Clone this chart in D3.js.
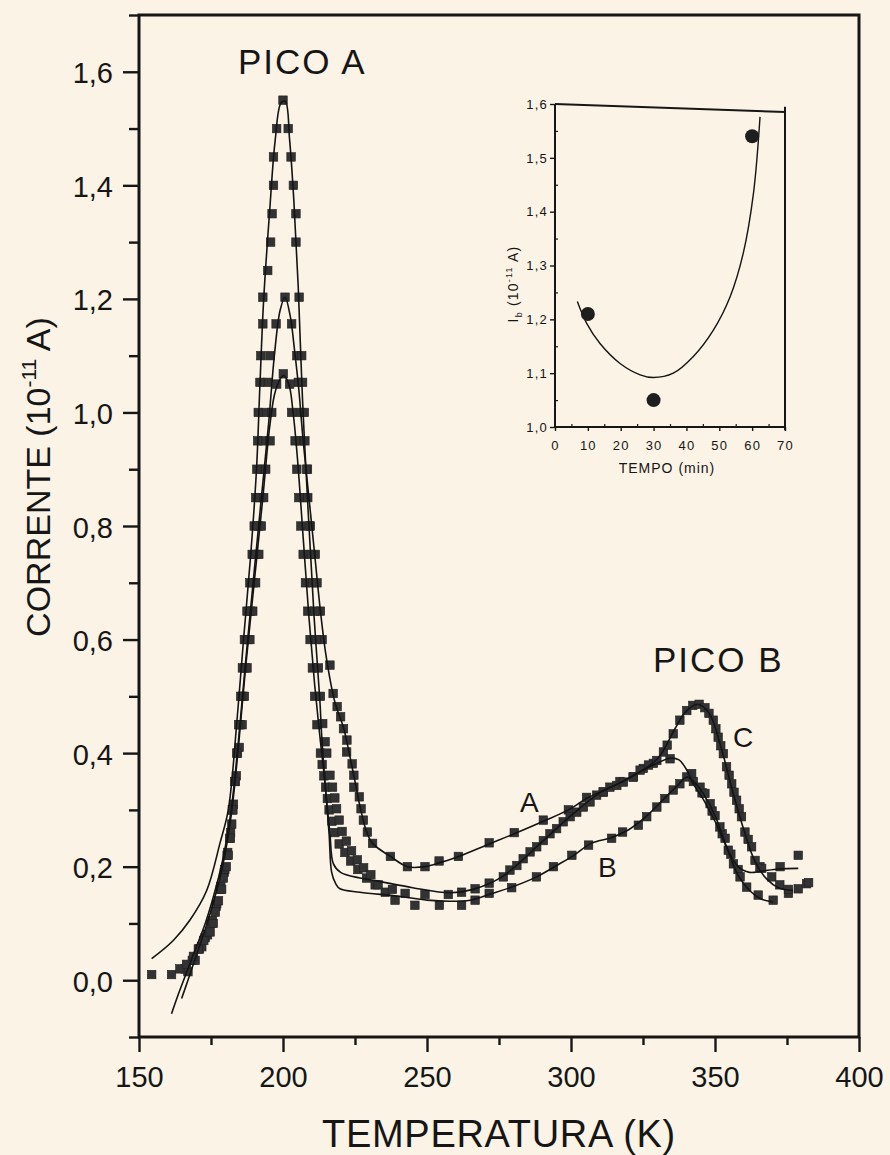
<!DOCTYPE html>
<html>
<head>
<meta charset="utf-8">
<script src="https://cdn.jsdelivr.net/npm/d3@7"></script>
<style>
  html, body { margin: 0; padding: 0; background: #fbf3e5; }
  svg { display: block; }
</style>
</head>
<body>
<svg id="chart" width="890" height="1155"></svg>
<script>
// ---- Main plot: TSDC current versus temperature, three samples (A, B, C) ----
// Measured points [T (K), I (1e-11 A)]
const serieA = [
  [166.0,0.020],[168.5,0.035],[171.0,0.055],[173.0,0.075],[175.0,0.100],[176.8,0.130],[178.2,0.160],
  [179.6,0.190],[180.6,0.220],[181.6,0.250],[182.4,0.300],[183.4,0.350],[184.2,0.400],[185.1,0.450],
  [186.0,0.500],[186.8,0.550],[187.7,0.600],[188.7,0.650],[189.7,0.700],[190.6,0.750],[191.5,0.800],
  [192.2,0.850],[192.8,0.900],[193.2,0.950],[193.8,1.000],[194.6,1.053],[195.5,1.100],[197.6,1.156],
  [200.7,1.203],[203.0,1.156],[204.8,1.100],[205.3,1.053],[206.0,1.000],[205.8,0.950],[208.5,0.900],
  [207.2,0.850],[209.5,0.800],[211.2,0.750],[211.8,0.700],[213.0,0.650],[213.6,0.600],[216.3,0.555],
  [217.4,0.505],[218.8,0.482],[220.0,0.464],[221.0,0.443],[222.2,0.423],[222.1,0.402],[224.0,0.381],
  [224.6,0.361],[224.6,0.340],[226.5,0.323],[227.1,0.302],[227.9,0.282],[229.3,0.261],[231.1,0.241],
  [237.3,0.218],[243.2,0.200],[249.3,0.200],[254.2,0.210],[260.9,0.218],[271.6,0.242],[280.3,0.260],
  [290.4,0.282],[299.1,0.300],[305.4,0.322],[311.2,0.331],[317.0,0.350],[321.6,0.358],[325.1,0.373],
  [328.6,0.382],[334.4,0.390],[341.9,0.364],[345.5,0.330],[349.0,0.298],[352.5,0.258],[355.5,0.222],
  [358.0,0.195],[365.6,0.200],[372.6,0.200],[378.9,0.220]
];
const serieB = [
  [167.0,0.015],[169.5,0.035],[171.8,0.059],[173.8,0.080],[175.5,0.105],[177.0,0.135],[178.4,0.165],
  [179.8,0.195],[180.8,0.225],[181.8,0.260],[182.8,0.310],[183.8,0.360],[184.8,0.410],[185.8,0.450],
  [186.6,0.500],[187.5,0.550],[188.5,0.600],[189.5,0.650],[190.5,0.700],[191.6,0.750],[192.5,0.800],
  [193.3,0.850],[194.0,0.900],[195.5,0.950],[196.1,1.000],[197.8,1.050],[200.1,1.068],[202.3,1.050],
  [203.0,1.000],[204.2,0.950],[204.8,0.900],[205.5,0.850],[206.2,0.800],[207.0,0.750],[207.8,0.700],
  [208.6,0.650],[209.4,0.600],[210.2,0.550],[211.0,0.500],[211.8,0.450],[213.0,0.400],[213.6,0.380],
  [214.2,0.360],[214.8,0.340],[215.4,0.320],[216.0,0.300],[217.0,0.280],[218.0,0.260],[219.5,0.240],
  [221.5,0.225],[223.5,0.210],[226.0,0.195],[229.0,0.180],[232.0,0.168],[235.5,0.155],[238.9,0.141],
  [245.8,0.132],[254.3,0.132],[262.0,0.132],[266.7,0.141],[271.6,0.153],[279.4,0.163],[288.0,0.182],
  [293.9,0.200],[300.3,0.220],[306.1,0.238],[314.1,0.250],[317.9,0.261],[323.4,0.273],[326.3,0.288],
  [329.8,0.305],[332.6,0.320],[335.5,0.335],[337.8,0.346],[340.2,0.358],[342.5,0.350],[344.8,0.340],
  [346.5,0.329],[348.3,0.311],[350.0,0.290],[351.7,0.270],[353.5,0.250],[354.6,0.229],[356.4,0.205],
  [358.7,0.182],[361.0,0.164],[365.0,0.150],[370.2,0.141],[375.5,0.153],[381.8,0.170]
];
const serieC = [
  [154.4,0.010],[161.3,0.010],[164.2,0.020],[166.5,0.028],[168.9,0.042],[170.6,0.055],[172.5,0.070],
  [174.7,0.085],[175.8,0.100],[176.5,0.120],[177.6,0.140],[178.7,0.160],[179.3,0.180],[180.3,0.200],
  [181.0,0.220],[181.6,0.250],[182.2,0.275],[182.6,0.300],[183.3,0.350],[183.9,0.400],[184.6,0.450],
  [185.3,0.500],[185.9,0.550],[186.6,0.600],[187.5,0.650],[188.5,0.700],[189.3,0.750],[190.0,0.800],
  [190.5,0.850],[190.9,0.900],[191.2,0.950],[191.4,1.000],[192.0,1.053],[192.3,1.100],[193.0,1.156],
  [193.0,1.203],[194.7,1.250],[195.7,1.300],[196.2,1.350],[196.7,1.400],[196.7,1.450],[197.8,1.500],
  [200.0,1.550],[201.8,1.500],[202.8,1.450],[203.6,1.400],[204.5,1.350],[204.5,1.300],[205.6,1.203],
  [206.5,1.100],[206.8,1.053],[207.4,1.000],[207.6,0.950],[208.2,0.900],[208.6,0.850],[209.2,0.800],
  [209.8,0.750],[210.4,0.700],[211.0,0.650],[211.6,0.600],[212.3,0.550],[213.0,0.500],[213.8,0.452],
  [214.6,0.420],[215.2,0.400],[216.3,0.361],[217.2,0.340],[218.0,0.321],[218.6,0.302],[219.5,0.282],
  [220.5,0.262],[222.0,0.245],[223.8,0.228],[225.8,0.212],[228.0,0.198],[230.5,0.186],[233.0,0.168],
  [238.0,0.160],[242.4,0.153],[249.3,0.151],[257.4,0.151],[262.0,0.155],[266.7,0.161],[271.6,0.171],
  [276.5,0.182],[278.8,0.194],[281.2,0.202],[283.4,0.214],[285.8,0.226],[288.1,0.235],[290.4,0.246],
  [292.7,0.258],[295.0,0.267],[297.3,0.279],[299.7,0.288],[302.0,0.296],[304.3,0.305],[306.6,0.314],
  [308.9,0.326],[311.2,0.332],[313.5,0.340],[315.9,0.343],[318.2,0.349],[321.6,0.358],[324.0,0.370],
  [326.9,0.379],[329.8,0.387],[332.1,0.402],[333.4,0.414],[335.5,0.434],[337.8,0.458],[340.2,0.475],
  [342.3,0.484],[344.5,0.486],[346.5,0.480],[347.9,0.470],[349.4,0.458],[350.3,0.443],[351.1,0.428],
  [352.0,0.413],[352.9,0.399],[354.0,0.376],[354.9,0.361],[355.8,0.346],[356.6,0.331],[357.5,0.317],
  [358.4,0.302],[359.2,0.288],[360.4,0.261],[361.5,0.248],[362.7,0.235],[363.9,0.211],[366.2,0.197],
  [369.7,0.182],[372.5,0.168],[375.5,0.160],[378.9,0.161],[382.5,0.172]
];

// Fitted curves [T (K), I (1e-11 A)]
const ajusteA = [
  [161.3,-0.059],[164.0,-0.020],[167.0,0.020],[170.0,0.060],[173.0,0.100],[176.0,0.150],[179.0,0.210],
  [182.0,0.300],[184.5,0.420],[187.0,0.560],[190.0,0.720],[192.5,0.850],[195.0,0.980],[197.0,1.100],
  [199.0,1.180],[200.7,1.203],[202.5,1.170],[204.0,1.110],[205.5,1.040],[207.0,0.950],[209.0,0.850],
  [211.0,0.750],[213.0,0.650],[215.0,0.570],[218.0,0.490],[221.0,0.445],[223.0,0.400],[225.0,0.350],
  [227.0,0.300],[229.0,0.262],[231.1,0.241],[237.3,0.218],[243.2,0.200],[249.3,0.200],[255.0,0.208],
  [261.0,0.218],[271.6,0.240],[280.3,0.258],[290.4,0.280],[299.1,0.300],[305.4,0.320],[317.0,0.348],
  [325.0,0.370],[334.4,0.391],[337.5,0.388],[340.0,0.372],[342.0,0.350],[346.0,0.318],[350.0,0.280],
  [354.0,0.235],[358.0,0.200],[362.0,0.190],[366.0,0.192],[372.0,0.196],[378.9,0.197]
];
const ajusteB = [
  [164.8,-0.032],[167.0,0.000],[170.0,0.045],[173.0,0.090],[176.0,0.140],[179.0,0.200],[182.0,0.290],
  [184.5,0.410],[187.0,0.550],[190.0,0.700],[193.0,0.850],[195.5,0.980],[197.5,1.040],[200.1,1.065],
  [202.0,1.050],[203.5,1.000],[205.0,0.920],[207.0,0.780],[209.0,0.640],[211.0,0.520],[212.8,0.430],
  [214.6,0.346],[216.0,0.258],[216.9,0.190],[218.3,0.170],[219.8,0.161],[226.7,0.155],[240.0,0.148],
  [250.0,0.141],[258.0,0.139],[265.0,0.141],[272.0,0.152],[280.0,0.165],[288.0,0.182],[295.0,0.202],
  [301.0,0.220],[307.0,0.241],[314.0,0.251],[320.0,0.265],[326.0,0.288],[332.0,0.318],[337.0,0.343],
  [340.2,0.358],[343.0,0.348],[346.0,0.328],[350.0,0.290],[354.0,0.235],[358.0,0.185],[362.0,0.158],
  [366.0,0.143],[370.2,0.138]
];
const ajusteC = [
  [154.4,0.038],[161.9,0.070],[167.7,0.106],[173.5,0.158],[178.1,0.241],[181.0,0.300],[183.9,0.450],
  [186.3,0.600],[188.8,0.750],[190.8,0.900],[192.0,1.050],[193.3,1.200],[195.3,1.350],[197.3,1.480],
  [199.3,1.545],[200.8,1.548],[202.3,1.480],[203.8,1.370],[205.3,1.220],[206.8,1.020],[208.8,0.820],
  [210.8,0.640],[212.8,0.493],[213.4,0.434],[214.6,0.346],[216.3,0.258],[217.5,0.205],[220.0,0.190],
  [226.7,0.180],[232.5,0.175],[245.0,0.163],[258.0,0.154],[266.0,0.160],[276.0,0.182],[290.0,0.244],
  [300.0,0.290],[310.0,0.330],[320.0,0.355],[330.0,0.390],[336.0,0.442],[340.0,0.474],[344.0,0.486],
  [348.0,0.470],[352.0,0.412],[356.0,0.335],[360.0,0.265],[364.0,0.208],[368.0,0.178],[372.0,0.163],
  [377.0,0.158]
];

// Axis ticks
const tempTicks = [150, 200, 250, 300, 350, 400];
const tempMinor = [175, 225, 275, 325, 375];
const correnteTicks = [0.0, 0.2, 0.4, 0.6, 0.8, 1.0, 1.2, 1.4, 1.6];
const correnteMinor = [-0.1, 0.1, 0.3, 0.5, 0.7, 0.9, 1.1, 1.3, 1.5, 1.7];

// ---- Inset: peak A current versus polarization time ----
const tempo = [10, 30, 60];
const picoI = [1.21, 1.05, 1.54];
const ajusteTempo = [6.8, 9.6, 13.7, 19.8, 25.9, 29.9, 36.0, 42.1, 48.2, 53.3, 57.3, 60.4, 62.4];
const ajusteI = [1.233, 1.193, 1.155, 1.118, 1.097, 1.092, 1.100, 1.131, 1.180, 1.242, 1.323, 1.434, 1.576];
const tempoTicks = [0, 10, 20, 30, 40, 50, 60, 70];
const tempoMinor = [5, 15, 25, 35, 45, 55, 65];
const insetTicks = [1.0, 1.1, 1.2, 1.3, 1.4, 1.5, 1.6];
const insetMinor = [1.05, 1.15, 1.25, 1.35, 1.45, 1.55];

// ---------------------------------------------------------------------------
const FONT = "'Liberation Sans', Arial, Helvetica, sans-serif";
const INK = "#161616";
const svg = d3.select("#chart");
svg.append("rect").attr("width", 890).attr("height", 1155).attr("fill", "#fbf3e5");

const x = d3.scaleLinear().domain([150, 400]).range([139, 859]);
const y = d3.scaleLinear().domain([-0.1, 1.7]).range([1037, 15]);
const virgula = d => d3.format(".1f")(d).replace(".", ",");

function styleAxis(g, size, opts = {}) {
  g.select(".domain").remove();
  g.selectAll(".tick line").attr("stroke", INK).attr("stroke-width", opts.tw || 2.4);
  g.selectAll(".tick text")
    .attr("font-family", FONT).attr("font-size", size).attr("fill", INK)
    .attr("letter-spacing", opts.ls || 0);
  if (opts.dy) g.selectAll(".tick text").attr("dy", opts.dy);
}

// Y axis (major + minor)
svg.append("g").attr("transform", "translate(139,0)")
  .call(d3.axisLeft(y).tickValues(correnteTicks).tickFormat(virgula).tickSize(16).tickPadding(10))
  .call(g => styleAxis(g, 29, { dy: "0.38em" }));
svg.append("g").attr("transform", "translate(139,0)")
  .call(d3.axisLeft(y).tickValues(correnteMinor).tickFormat("").tickSize(10))
  .call(g => styleAxis(g, 29));

// X axis (major + minor)
svg.append("g").attr("transform", "translate(0,1037)")
  .call(d3.axisBottom(x).tickValues(tempTicks).tickFormat(d3.format("d")).tickSize(15).tickPadding(14))
  .call(g => styleAxis(g, 29));
svg.append("g").attr("transform", "translate(0,1037)")
  .call(d3.axisBottom(x).tickValues(tempMinor).tickFormat("").tickSize(8))
  .call(g => styleAxis(g, 29));

// Frame
svg.append("path")
  .attr("d", `M${x(150)},${y(1.7)}H${x(400)}V${y(-0.1)}H${x(150)}Z`)
  .attr("fill", "none").attr("stroke", INK).attr("stroke-width", 3);

// Axis titles
svg.append("text")
  .attr("x", 499).attr("y", 1147).attr("text-anchor", "middle")
  .attr("font-family", FONT).attr("font-size", 38).attr("letter-spacing", 0.7).attr("fill", INK)
  .text("TEMPERATURA (K)");

const yTitle = svg.append("text")
  .attr("transform", "translate(50,477) rotate(-90)").attr("text-anchor", "middle")
  .attr("font-family", FONT).attr("font-size", 34).attr("fill", INK);
yTitle.append("tspan").text("CORRENTE (10");
yTitle.append("tspan").attr("font-size", 21).attr("dy", -14).text("-11");
yTitle.append("tspan").attr("dy", 14).text(" A)");

// Series: markers then fitted lines
const linha = d3.line().x(d => x(d[0])).y(d => y(d[1])).curve(d3.curveCatmullRom.alpha(0.5));
const MS = 8.5;
[serieA, serieB, serieC].forEach(s => {
  svg.append("g").selectAll("rect").data(s).join("rect")
    .attr("x", d => x(d[0]) - MS / 2).attr("y", d => y(d[1]) - MS / 2)
    .attr("width", MS).attr("height", MS)
    .attr("fill", "#333").attr("stroke", "#1f1f1f").attr("stroke-width", 0.6);
});
[ajusteA, ajusteB, ajusteC].forEach(f => {
  svg.append("path").datum(f).attr("d", linha)
    .attr("fill", "none").attr("stroke", "#141414").attr("stroke-width", 1.6);
});

// Peak and curve labels
const rotulo = (t, px, py, size, ls) => svg.append("text")
  .attr("x", px).attr("y", py).attr("font-family", FONT).attr("font-size", size)
  .attr("letter-spacing", ls || 0).attr("fill", INK).text(t);
rotulo("PICO A", 238, 74, 35, 2);
rotulo("PICO B", 653, 672, 35, 2);
rotulo("A", 520, 812, 28);
rotulo("B", 598, 877, 28);
rotulo("C", 733, 747, 28);

// ---- Inset ----
const xi = d3.scaleLinear().domain([0, 70]).range([555, 785]);
const yi = d3.scaleLinear().domain([1.0, 1.6]).range([427, 104]);

svg.append("g").attr("transform", "translate(555,0)")
  .call(d3.axisLeft(yi).tickValues(insetTicks).tickFormat(virgula).tickSize(5).tickPadding(2))
  .call(g => styleAxis(g, 13, { tw: 1.4, ls: 1.2 }));
svg.append("g").attr("transform", "translate(555,0)")
  .call(d3.axisRight(yi).tickValues(insetMinor).tickFormat("").tickSize(3))
  .call(g => styleAxis(g, 13, { tw: 1.2 }));
svg.append("g").attr("transform", "translate(0,427)")
  .call(d3.axisBottom(xi).tickValues(tempoTicks).tickFormat(d3.format("d")).tickSize(4).tickPadding(10))
  .call(g => styleAxis(g, 13, { tw: 1.4, ls: 1.2 }));
svg.append("g").attr("transform", "translate(0,427)")
  .call(d3.axisTop(xi).tickValues(tempoMinor).tickFormat("").tickSize(3))
  .call(g => styleAxis(g, 13, { tw: 1.2 }));

// Inset frame (top edge runs slightly downhill)
const frameInset = [
  [[0, 1.6], [0, 1.0]],
  [[0, 1.0], [70, 1.0]],
  [[0, 1.6], [70, 1.585]],
  [[70, 1.595], [70, 0.994]]
];
frameInset.forEach(seg => {
  svg.append("line")
    .attr("x1", xi(seg[0][0])).attr("y1", yi(seg[0][1]))
    .attr("x2", xi(seg[1][0])).attr("y2", yi(seg[1][1]))
    .attr("stroke", INK).attr("stroke-width", 2);
});

const linhaInset = d3.line().x(d => xi(d[0])).y(d => yi(d[1])).curve(d3.curveCatmullRom.alpha(0.5));
svg.append("path").datum(ajusteTempo.map((t, i) => [t, ajusteI[i]])).attr("d", linhaInset)
  .attr("fill", "none").attr("stroke", "#141414").attr("stroke-width", 1.4);
svg.append("g").selectAll("circle").data(tempo.map((t, i) => [t, picoI[i]])).join("circle")
  .attr("cx", d => xi(d[0])).attr("cy", d => yi(d[1])).attr("r", 7).attr("fill", "#1e1e1e");

svg.append("text")
  .attr("x", 667).attr("y", 473).attr("text-anchor", "middle")
  .attr("font-family", FONT).attr("font-size", 14).attr("letter-spacing", 1).attr("fill", INK)
  .text("TEMPO (min)");

const yiTitle = svg.append("text")
  .attr("transform", "translate(518,284) rotate(-90)").attr("text-anchor", "middle")
  .attr("font-family", FONT).attr("font-size", 14).attr("letter-spacing", 1.2).attr("fill", INK);
yiTitle.append("tspan").text("I");
yiTitle.append("tspan").attr("font-size", 9).attr("dy", 4).text("b");
yiTitle.append("tspan").attr("dy", -4).text(" (10");
yiTitle.append("tspan").attr("font-size", 9).attr("dy", -6).text("-11");
yiTitle.append("tspan").attr("dy", 6).text(" A)");
</script>
</body>
</html>
